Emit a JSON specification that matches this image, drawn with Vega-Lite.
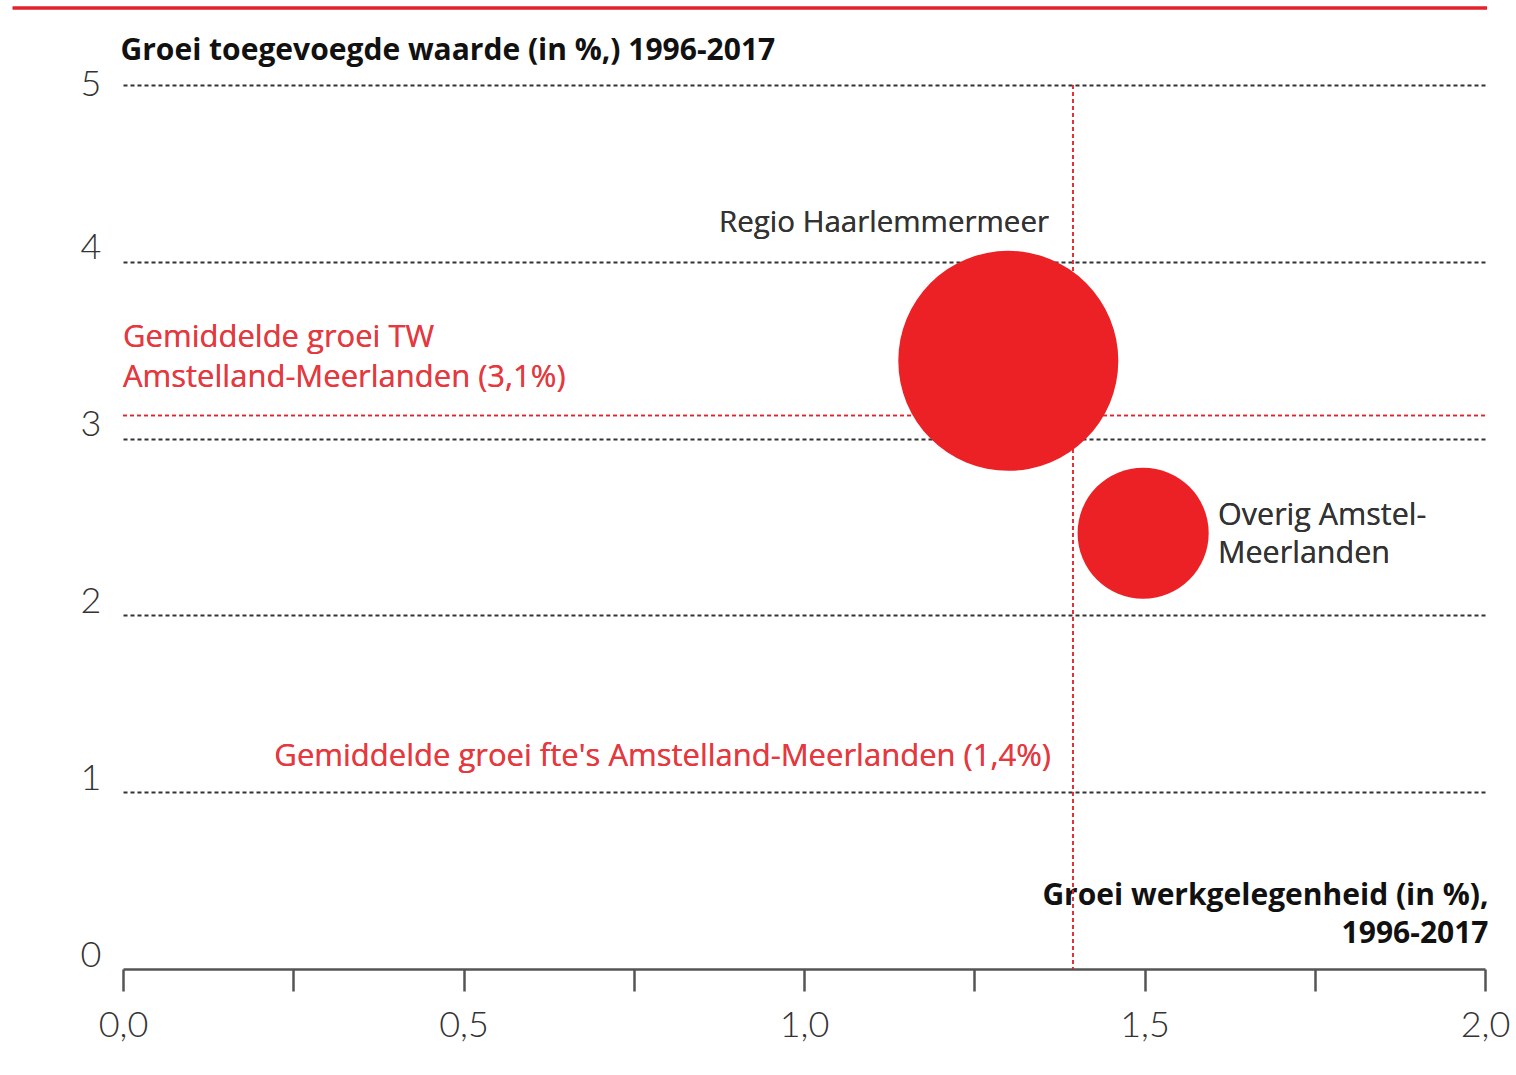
{
  "$schema": "https://vega.github.io/schema/vega-lite/v6.json",
  "width": 1362,
  "height": 884,
  "autosize": {"type": "none"},
  "padding": {"left": 123, "top": 85, "right": 31, "bottom": 106},
  "background": "white",
  "config": {"view": {"stroke": null}, "font": "Open Sans"},
  "data": {
    "values": [
      {"regio": "Regio Haarlemmermeer", "werkgelegenheid": 1.3, "toegevoegde_waarde": 3.44, "omvang": 100},
      {"regio": "Overig Amstel-Meerlanden", "werkgelegenheid": 1.498, "toegevoegde_waarde": 2.465, "omvang": 35.5}
    ]
  },
  "layer": [
    {
      "mark": {"type": "rule", "color": "#e3232b", "strokeWidth": 3, "clip": false},
      "encoding": {
        "x": {"datum": -0.162},
        "x2": {"datum": 2.003},
        "y": {"datum": 5.435}
      }
    },
    {
      "mark": {"type": "rule", "color": "#e3232b", "strokeWidth": 1.5, "strokeDash": [4, 3]},
      "encoding": {"y": {"datum": 3.13}}
    },
    {
      "mark": {"type": "rule", "color": "#e3232b", "strokeWidth": 1.5, "strokeDash": [4, 3]},
      "encoding": {"x": {"datum": 1.395}}
    },
    {
      "mark": {"type": "point", "shape": "circle", "filled": true, "opacity": 1, "color": "#eb2126"},
      "encoding": {
        "x": {
          "field": "werkgelegenheid",
          "type": "quantitative",
          "scale": {"domain": [0, 2], "nice": false, "zero": false},
          "axis": {
            "values": [0, 0.25, 0.5, 0.75, 1, 1.25, 1.5, 1.75, 2],
            "labelExpr": "datum.value % 0.5 == 0 ? replace(format(datum.value, '.1f'), '.', ',') : ''",
            "grid": false,
            "domainColor": "#555555",
            "domainWidth": 2.5,
            "tickColor": "#555555",
            "tickWidth": 2.5,
            "tickSize": 22,
            "labelFont": "Lato",
            "labelFontWeight": 300,
            "labelFontSize": 36,
            "labelColor": "#333333",
            "labelPadding": 17,
            "labelFlush": false,
            "title": ["Groei werkgelegenheid (in %),", "1996-2017"],
            "titleFont": "Open Sans",
            "titleFontSize": 30,
            "titleFontWeight": "bold",
            "titleColor": "#111111",
            "titleAlign": "right",
            "titleBaseline": "middle",
            "titleLineHeight": 38,
            "titleX": 1365,
            "titleY": -74,
            "titleAngle": 0
          }
        },
        "y": {
          "field": "toegevoegde_waarde",
          "type": "quantitative",
          "scale": {"domain": [0, 5], "nice": false},
          "axis": {
            "values": [0, 1, 2, 3, 4, 5],
            "format": "d",
            "domain": false,
            "ticks": false,
            "grid": true,
            "gridColor": "#333333",
            "gridWidth": 2,
            "gridDash": [4, 3],
            "gridOpacity": {"condition": {"test": "datum.value == 0", "value": 0}, "value": 1},
            "labelFont": "Lato",
            "labelFontWeight": 300,
            "labelFontSize": 36,
            "labelColor": "#333333",
            "labelPadding": 22,
            "labelBaseline": "middle",
            "labelOffset": {"condition": {"test": "datum.value == 5", "value": -1}, "value": -14},
            "title": "Groei toegevoegde waarde (in %,) 1996-2017",
            "titleFont": "Open Sans",
            "titleFontSize": 30,
            "titleFontWeight": "bold",
            "titleColor": "#111111",
            "titleAngle": 0,
            "titleAlign": "left",
            "titleBaseline": "middle",
            "titleX": -3,
            "titleY": -35
          }
        },
        "size": {
          "field": "omvang",
          "type": "quantitative",
          "scale": {"domain": [0, 100], "range": [0, 48400]},
          "legend": null
        }
      }
    },
    {
      "mark": {"type": "text", "font": "Open Sans", "fontSize": 29.5, "color": "#333333", "align": "center", "baseline": "middle"},
      "encoding": {
        "x": {"datum": 1.1175},
        "y": {"datum": 4.219},
        "text": {"value": "Regio Haarlemmermeer"}
      }
    },
    {
      "mark": {"type": "text", "font": "Open Sans", "fontSize": 30.5, "color": "#333333", "align": "left", "baseline": "middle", "lineHeight": 38},
      "encoding": {
        "x": {"datum": 1.608},
        "y": {"datum": 2.562},
        "text": {"value": ["Overig Amstel-", "Meerlanden"]}
      }
    },
    {
      "mark": {"type": "text", "font": "Open Sans", "fontSize": 31, "color": "#e6393f", "align": "left", "baseline": "middle", "lineHeight": 40},
      "encoding": {
        "x": {"datum": 0},
        "y": {"datum": 3.569},
        "text": {"value": ["Gemiddelde groei TW", "Amstelland-Meerlanden (3,1%)"]}
      }
    },
    {
      "mark": {"type": "text", "font": "Open Sans", "fontSize": 31, "color": "#e6393f", "align": "right", "baseline": "middle"},
      "encoding": {
        "x": {"datum": 1.3627},
        "y": {"datum": 1.199},
        "text": {"value": "Gemiddelde groei fte's Amstelland-Meerlanden (1,4%)"}
      }
    }
  ]
}
